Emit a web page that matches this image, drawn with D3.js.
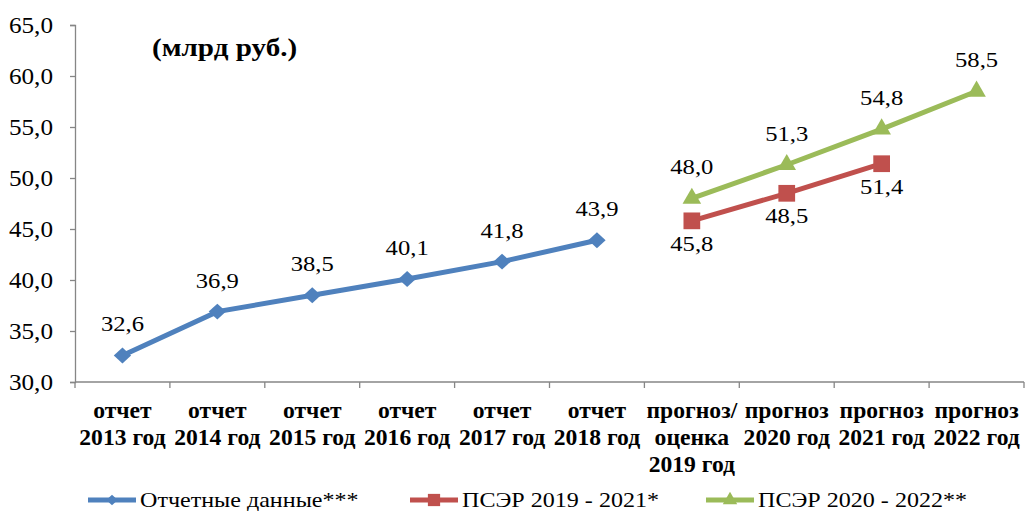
<!DOCTYPE html>
<meta charset="utf-8">
<script src="https://d3js.org/d3.v7.min.js"></script>
<style>
    body { margin: 0; background: #fff; }
    svg text { font-family: "Liberation Serif", "Times New Roman", serif; fill: #000; }
    .y_axis text { font-size: 22.5px; }
    .y_axis path, .y_axis line, .x_axis path, .x_axis line { stroke: #868686; stroke-width: 1.3; }
    .cat { font-size: 22.5px; font-weight: bold; }
    .lbl { font-size: 22px; }
    .legend text { font-size: 21.5px; }
    #title_text { font-size: 26px; font-weight: bold; }
</style>
<div id="chart"></div>
<script>
// categories (each label split into lines)
const categories = [
    ["отчет", "2013 год"],
    ["отчет", "2014 год"],
    ["отчет", "2015 год"],
    ["отчет", "2016 год"],
    ["отчет", "2017 год"],
    ["отчет", "2018 год"],
    ["прогноз/", "оценка", "2019 год"],
    ["прогноз", "2020 год"],
    ["прогноз", "2021 год"],
    ["прогноз", "2022 год"]
];
const yTicks = [30, 35, 40, 45, 50, 55, 60, 65];

// series: [category index, value]
const reported = [[0, 32.6], [1, 36.9], [2, 38.5], [3, 40.1], [4, 41.8], [5, 43.9]];
const psep2019 = [[6, 45.8], [7, 48.5], [8, 51.4]];
const psep2020 = [[6, 48.0], [7, 51.3], [8, 54.8], [9, 58.5]];

const diamond = {draw: (ctx, size) => {
    const r = Math.sqrt(size) / 2;
    ctx.moveTo(0, -r * 0.92); ctx.lineTo(r, 0); ctx.lineTo(0, r * 0.92); ctx.lineTo(-r, 0); ctx.closePath();
}};

const series = [
    {name: "Отчетные данные***", data: reported, color: "#4F81BD", marker: diamond, msize: 300, lsize: 130, below: false},
    {name: "ПСЭР 2019 - 2021*", data: psep2019, color: "#C0504D", marker: d3.symbolSquare, msize: 280, lsize: 150, below: true},
    {name: "ПСЭР 2020 - 2022**", data: psep2020, color: "#9BBB59", marker: d3.symbolTriangle, msize: 150, lsize: 90, below: false}
];

const sx = 1.12;   // value / tick text is a bit wider than the serif font
const sxCat = 1.05;
const W = 1025, H = 511;
const margin = {top: 25, right: 1, bottom: 129, left: 75};
const width = W - margin.left - margin.right,
      height = H - margin.top - margin.bottom;

const svg = d3.select("#chart").append("svg")
    .attr("width", W).attr("height", H)
    .append("g")
    .attr("transform", "translate(" + margin.left + "," + margin.top + ")");

const x = d3.scaleBand().domain(d3.range(categories.length)).range([0, width]);
const y = d3.scaleLinear().domain([30, 65]).range([height, 0]);
const fmt = v => d3.format(".1f")(v).replace(".", ",");
const cx = i => x(i) + x.bandwidth() / 2;

// y axis
svg.append("g").attr("class", "y_axis")
    .attr("font-family", null).attr("font-size", null)
    .call(d3.axisLeft(y).tickValues(yTicks).tickSize(5).tickSizeOuter(5).tickFormat(fmt))
    .call(g => g.selectAll("text").attr("x", 0).attr("dy", "0.35em")
        .attr("transform", "translate(-22,0) scale(" + sx + ",1)"));

// x axis with tick marks at band edges
const xa = svg.append("g").attr("class", "x_axis").attr("transform", "translate(0," + height + ")");
xa.append("line").attr("x1", 0).attr("x2", width).attr("y1", 0).attr("y2", 0);
xa.selectAll(".tk").data(d3.range(categories.length + 1)).join("line")
    .attr("class", "tk")
    .attr("x1", i => i < categories.length ? x(i) : width)
    .attr("x2", i => i < categories.length ? x(i) : width)
    .attr("y1", 0).attr("y2", 6);

const catText = xa.selectAll(".cat").data(categories).join("text")
    .attr("class", "cat")
    .attr("text-anchor", "middle")
    .attr("transform", (d, i) => "translate(" + cx(i) + ",0) scale(" + sxCat + ",1)");
catText.selectAll("tspan").data(d => d).join("tspan")
    .attr("x", 0)
    .attr("y", (d, j) => 36 + j * 27)
    .text(d => d);

const line = d3.line().x(d => cx(d[0])).y(d => y(d[1]));

series.forEach(s => {
    svg.append("path").datum(s.data)
        .attr("fill", "none").attr("stroke", s.color).attr("stroke-width", 5)
        .attr("d", line);
    svg.selectAll(null).data(s.data).join("path")
        .attr("fill", s.color)
        .attr("transform", d => "translate(" + cx(d[0]) + "," + y(d[1]) + ")")
        .attr("d", d3.symbol().type(s.marker).size(s.msize));
    svg.selectAll(null).data(s.data).join("text")
        .attr("class", "lbl")
        .attr("text-anchor", "middle")
        .attr("transform", d => "translate(" + cx(d[0]) + "," + (y(d[1]) + (s.below ? 30 : -24)) + ") scale(" + sx + ",1)")
        .text(d => fmt(d[1]));
});

// title
svg.append("text").attr("id", "title_text")
    .attr("transform", "translate(77,31) scale(" + sx + ",1)").text("(млрд руб.)");

// legend
const legendX = [88, 410, 706];
const legend = d3.select("svg").append("g").attr("class", "legend");
series.forEach((s, i) => {
    const g = legend.append("g").attr("transform", "translate(" + legendX[i] + ",500)");
    g.append("line").attr("x1", 0).attr("x2", 48).attr("stroke", s.color).attr("stroke-width", 5);
    g.append("path").attr("fill", s.color).attr("transform", "translate(24,0)")
        .attr("d", d3.symbol().type(s.marker).size(s.lsize));
    g.append("text").attr("transform", "translate(52,7) scale(" + sx + ",1)").text(s.name);
});
</script>
